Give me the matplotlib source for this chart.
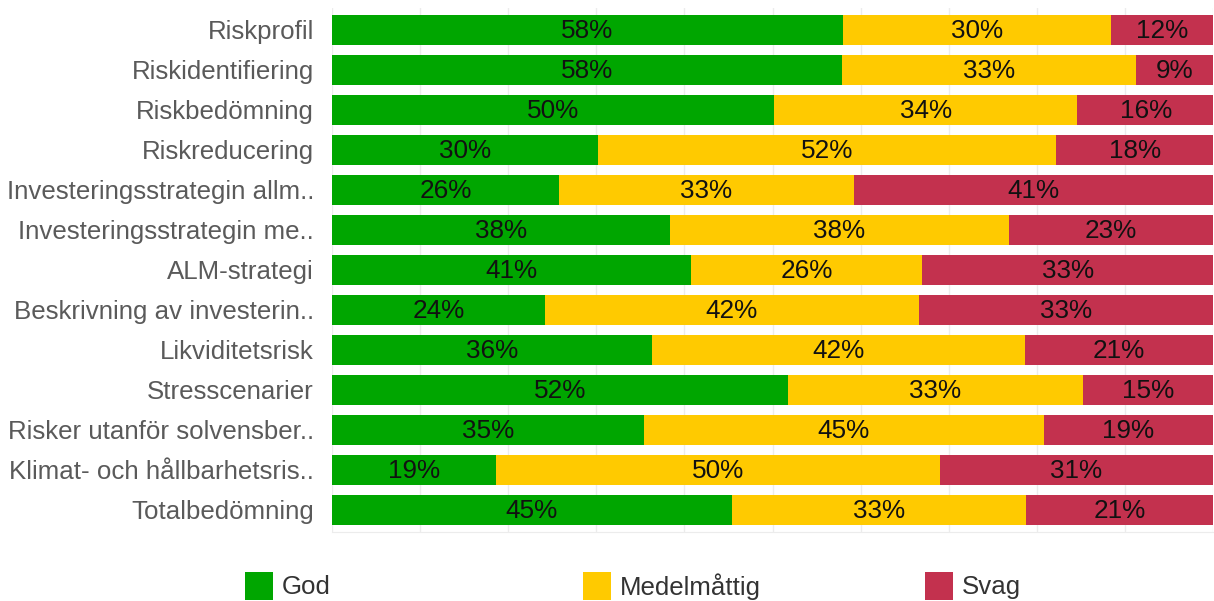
import matplotlib.pyplot as plt
from matplotlib.patches import Rectangle
import numpy as np

# Kategorien (von oben nach unten)
categories = [
    "Riskprofil",
    "Riskidentifiering",
    "Riskbedömning",
    "Riskreducering",
    "Investeringsstrategin allm..",
    "Investeringsstrategin me..",
    "ALM-strategi",
    "Beskrivning av investerin..",
    "Likviditetsrisk",
    "Stresscenarier",
    "Risker utanför solvensber..",
    "Klimat- och hållbarhetsris..",
    "Totalbedömning",
]

# Anteile in Prozent
god = [58.0, 57.9, 50.2, 30.2, 25.8, 38.4, 40.8, 24.2, 36.3, 51.8, 35.4, 18.6, 45.4]
medel = [30.4, 33.4, 34.4, 52.0, 33.4, 38.4, 26.2, 42.4, 42.4, 33.4, 45.4, 50.4, 33.4]
svag = [11.6, 8.7, 15.6, 17.8, 40.8, 23.2, 33.0, 33.4, 21.3, 14.8, 19.2, 31.0, 21.2]

series_names = ["God", "Medelmåttig", "Svag"]
colors = ["#00A600", "#FFCA00", "#C3314E"]

plt.rcParams['font.family'] = ['Liberation Sans', 'DejaVu Sans']

fig = plt.figure(figsize=(12.14, 6.01), dpi=100)
ax = fig.add_axes([332 / 1214, 1 - 532 / 601, 881 / 1214, 524 / 601])

y = np.arange(len(categories))
left = np.zeros(len(categories))

for values, color in zip([god, medel, svag], colors):
    vals = np.array(values)
    ax.barh(y, vals, left=left, height=0.75, color=color, edgecolor='none', zorder=2)
    # Prozentwerte mittig im Segment
    for yi, (l, v) in enumerate(zip(left, vals)):
        ax.text(l + v / 2, yi + 0.02, f"{round(v)}%", ha='center', va='center',
                fontsize=18.8, color='#111111', zorder=3)
    left = left + vals

ax.set_xlim(0, 100)
ax.set_ylim(len(categories) - 0.45, -0.55)
ax.set_yticks(y)
ax.set_yticklabels(categories, fontsize=18.6, color='#5a5a5a')
ax.set_xticks(np.arange(0, 101, 10))
ax.tick_params(axis='y', length=0, pad=13)
ax.tick_params(axis='x', length=0, labelbottom=False)
ax.grid(axis='x', color='#ececec', linewidth=1, zorder=0)
for side in ['top', 'right', 'left']:
    ax.spines[side].set_visible(False)
ax.spines['bottom'].set_color('#ececec')

# Legende unten, feste Abstände
legend_x = [245, 583, 925]
for x0, name, color in zip(legend_x, series_names, colors):
    fig.patches.append(Rectangle((x0 / 1214, 1 - 600 / 601), 28 / 1214, 28 / 601,
                                 transform=fig.transFigure, facecolor=color,
                                 edgecolor='none'))
    fig.text((x0 + 37) / 1214, 1 - 587 / 601, name, fontsize=18.6,
             color='#333333', va='center', ha='left')

fig.savefig("out.png", dpi=100)
